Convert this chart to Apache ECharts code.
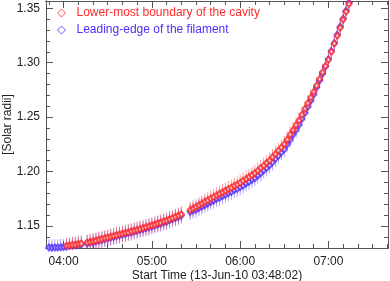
<!DOCTYPE html>
<html>
<head>
<meta charset="utf-8">
<script src="https://cdn.jsdelivr.net/npm/echarts@6/dist/echarts.min.js"></script>
<style>
html,body{margin:0;padding:0;background:#fff;}
#c{width:390px;height:281px;}
</style>
</head>
<body>
<div id="c"></div>
<script>
// ---- data ----
const startLabel = '13-Jun-10 03:48:02';
const times = [
 '03:50','03:52','03:54','03:56','03:58','04:00','04:02','04:04','04:06','04:08','04:10','04:12',
 '04:16','04:18','04:20','04:22','04:24','04:26','04:28','04:30','04:32','04:34',
 '04:36','04:38','04:40','04:42','04:44','04:46','04:48','04:50','04:52','04:54',
 '04:56','04:58','05:00','05:02','05:04','05:06','05:08','05:10','05:12','05:14',
 '05:16','05:18','05:20',
 '05:26','05:28','05:30','05:32','05:34','05:36','05:38','05:40','05:42','05:44',
 '05:46','05:48','05:50','05:52','05:54','05:56','05:58','06:00','06:02','06:04',
 '06:06','06:08','06:10','06:12','06:14','06:16','06:18','06:20','06:22','06:24',
 '06:26','06:28','06:30','06:32','06:34','06:36','06:38','06:40','06:42','06:44',
 '06:46','06:48','06:50','06:52','06:54','06:56','06:58','07:00','07:02','07:04',
 '07:06','07:08','07:10','07:12','07:14','07:16'
];
const cavity = [
 null,null,null,null,null,null,1.1318,1.1322,1.1327,1.1330,1.1336,1.1339,
 1.1349,1.1353,1.1361,1.1366,1.1375,1.1380,1.1389,1.1394,1.1403,1.1409,
 1.1416,1.1424,1.1430,1.1438,1.1443,1.1452,1.1458,1.1466,1.1473,1.1482,
 1.1490,1.1498,1.1506,1.1515,1.1524,1.1533,1.1543,1.1552,1.1562,1.1574,
 1.1585,1.1596,1.1607,
 1.1648,1.1662,1.1676,1.1692,1.1706,1.1722,1.1737,1.1753,1.1766,1.1782,
 1.1795,1.1811,1.1823,1.1840,1.1852,1.1869,1.1881,1.1898,1.1916,1.1932,
 1.1951,1.1967,1.1986,1.2008,1.2033,1.2054,1.2080,1.2102,1.2133,1.2161,
 1.2193,1.2221,1.2252,1.2294,1.2340,1.2381,1.2427,1.2470,1.2522,1.2576,
 1.2628,1.2680,1.2732,1.2790,1.2850,1.2912,1.2970,1.3028,1.3100,1.3176,
 1.3248,1.3322,1.3396,1.3468,1.3540,1.3615
];
const filament = [
 1.1302,1.1301,1.1303,1.1302,1.1305,1.1308,1.1310,1.1316,1.1318,1.1323,1.1325,1.1331,
 1.1340,1.1348,1.1350,1.1360,1.1364,1.1372,1.1380,1.1385,1.1395,1.1400,
 1.1409,1.1414,1.1422,1.1428,1.1437,1.1441,1.1450,1.1456,1.1466,1.1472,
 1.1481,1.1488,1.1497,1.1505,1.1515,1.1522,1.1533,1.1540,1.1553,1.1562,
 1.1575,1.1584,1.1596,
 1.1630,1.1643,1.1652,1.1668,1.1680,1.1694,1.1708,1.1722,1.1735,1.1750,
 1.1761,1.1776,1.1788,1.1804,1.1815,1.1831,1.1843,1.1858,1.1873,1.1892,
 1.1906,1.1926,1.1940,1.1965,1.1986,1.2012,1.2033,1.2058,1.2086,1.2118,
 1.2146,1.2178,1.2206,1.2252,1.2295,1.2342,1.2384,1.2430,1.2486,1.2540,
 1.2596,1.2652,1.2708,1.2774,1.2838,1.2900,1.2966,1.3032,1.3108,1.3180,
 1.3256,1.3330,1.3404,1.3478,1.3552,1.3625
];
const cavityErr = 0.0075;
const filamentErr = 0.0075;
const xMajorTicks = ['04:00','05:00','06:00','07:00'];
const yMajorTicks = [1.15, 1.20, 1.25, 1.30, 1.35];
const yMinorTicks = [1.13,1.14,1.16,1.17,1.18,1.19,1.21,1.22,1.23,1.24,1.26,1.27,1.28,1.29,1.31,1.32,1.33,1.34];
const xMinorTicks = ['03:50','04:10','04:20','04:30','04:40','04:50','05:10','05:20','05:30','05:40','05:50',
  '06:10','06:20','06:30','06:40','06:50','07:10','07:20','07:30','07:40'];
const xRange = ['03:48:02', '07:40:30'];
const yRange = [1.1298, 1.3567];
const names = ['Lower-most boundary of the cavity', 'Leading-edge of the filament'];

// ---- helpers ----
function toMin(s){ const p = s.split(':').map(Number); return p[0]*60 + p[1] + (p[2]||0)/60; }
function fmt(m){ const h=Math.floor(m/60+1e-6), mm=Math.round(m-h*60); return String(h).padStart(2,'0')+':'+String(mm).padStart(2,'0'); }
function pairs(arr){ const out=[]; arr.forEach((v,i)=>{ if(v!=null) out.push([toMin(times[i]), v]); }); return out; }

const RED = '#ff2a2a', BLUE = '#4f2cff';
const RED_E = 'rgba(255,40,40,0.45)', BLUE_E = 'rgba(80,50,255,0.45)';
const AX = '#555';
const FONT = 'Liberation Sans, Arial, Helvetica, sans-serif';

function errSeries(name, data, err, color, z){
  return {
    name: name, type:'custom', data: data, clip:true, silent:true, z:z,
    coordinateSystem:'cartesian2d', xAxisIndex:0, yAxisIndex:0,
    encode:{x:0,y:1},
    renderItem: function(params, api){
      const x = api.value(0), y = api.value(1);
      const a = api.coord([x, y-err]), b = api.coord([x, y+err]);
      return {type:'line', shape:{x1:a[0],y1:a[1],x2:b[0],y2:b[1]}, style:{stroke:color, lineWidth:1, fill:null}};
    }
  };
}

const xMin = toMin(xRange[0]), xMax = toMin(xRange[1]);
const xMaj = xMajorTicks.map(toMin), xMnr = xMinorTicks.map(toMin);

function xAx(pos, ticks, len, labels, extra){
  return Object.assign({
    type:'value', position:pos, min:xMin, max:xMax,
    axisLine:{show:true, onZero:false, lineStyle:{color:AX, width:1}},
    axisTick:{show:true, inside:true, length:len, customValues:ticks, lineStyle:{color:AX}},
    axisLabel:{show:labels, customValues:ticks, formatter:fmt, fontSize:12, color:'#222', fontFamily:FONT, margin:8},
    splitLine:{show:false}
  }, extra||{});
}
function yAx(pos, ticks, len, labels, extra){
  return Object.assign({
    type:'value', position:pos, min:yRange[0], max:yRange[1],
    axisLine:{show:true, onZero:false, lineStyle:{color:AX, width:1}},
    axisTick:{show:true, inside:true, length:len, customValues:ticks, lineStyle:{color:AX}},
    axisLabel:{show:labels, customValues:ticks, formatter:v=>Number(v).toFixed(2), fontSize:12, color:'#222', fontFamily:FONT, margin:6},
    splitLine:{show:false}
  }, extra||{});
}

const redData = pairs(cavity), blueData = pairs(filament);

const chart = echarts.init(document.getElementById('c'), null, {renderer:'canvas'});
chart.setOption({
  animation:false,
  backgroundColor:'#fff',
  grid:{left:46, right:2, top:1, bottom:33, containLabel:false, outerBoundsMode:'none'},
  legend:{
    orient:'vertical', left:52, top:2, itemGap:5, itemWidth:8, itemHeight:8,
    textStyle:{fontSize:12, fontFamily:FONT, padding:[0,0,0,6]},
    data:[
      {name:names[0], icon:'diamond', itemStyle:{color:'#fff', borderColor:RED, borderWidth:1}, textStyle:{color:RED}},
      {name:names[1], icon:'diamond', itemStyle:{color:'#fff', borderColor:BLUE, borderWidth:1}, textStyle:{color:BLUE}}
    ]
  },
  xAxis:[
    xAx('bottom', xMaj, 7, true, {name:'Start Time ('+startLabel+')', nameLocation:'middle', nameGap:22,
      nameMoveOverlap:false, nameTextStyle:{fontSize:12, color:'#222', fontFamily:FONT}}),
    xAx('bottom', xMnr, 4, false),
    xAx('top', xMaj, 7, false),
    xAx('top', xMnr, 4, false)
  ],
  yAxis:[
    yAx('left', yMajorTicks, 7, true, {name:'[Solar radii]', nameLocation:'middle', nameGap:32,
      nameMoveOverlap:false, nameTextStyle:{fontSize:12, color:'#222', fontFamily:FONT}}),
    yAx('left', yMinorTicks, 4, false),
    yAx('right', yMajorTicks, 7, false),
    yAx('right', yMinorTicks, 4, false)
  ],
  series:[
    errSeries('filErr', blueData, filamentErr, BLUE_E, 1),
    errSeries('cavErr', redData, cavityErr, RED_E, 2),
    {name:names[1], type:'scatter', data:blueData, symbol:'emptyDiamond', symbolSize:[5,6], clip:true, z:3,
     itemStyle:{color:BLUE, borderColor:BLUE, borderWidth:0.7}},
    {name:names[0], type:'scatter', data:redData, symbol:'emptyDiamond', symbolSize:[5,6], clip:true, z:4,
     itemStyle:{color:RED, borderColor:RED, borderWidth:0.7}}
  ]
});
</script>
</body>
</html>
